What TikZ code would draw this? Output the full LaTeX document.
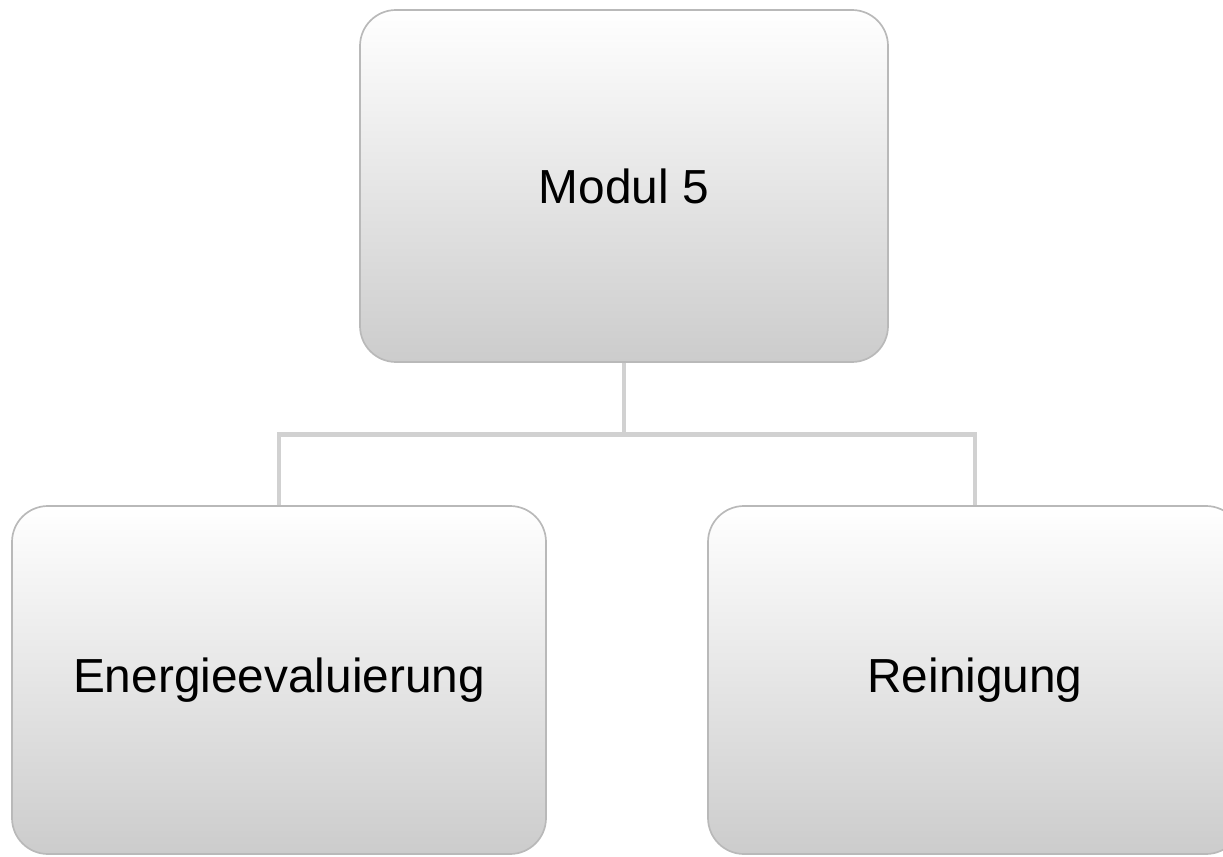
\documentclass[tikz,border=0pt]{standalone}
\usepackage{fontspec}
\setmainfont{Liberation Sans}
\tikzset{
  modbox/.style={draw=gray!55,line width=1.2pt,rounded corners=0.9cm,
    top color=white,bottom color=black!20,
    minimum width=13.35cm,minimum height=8.7cm,
    font=\fontsize{34}{40}\selectfont},
  link/.style={draw=black!18,line width=3.5pt}
}
\begin{document}
\begin{tikzpicture}
\useasboundingbox (0,0) rectangle (30.575,-21.425);
\node[modbox,minimum width=13.2cm,minimum height=8.8cm] (modul) at (15.6,-4.65) {Modul 5};
\node[modbox] (energie) at (6.975,-17.0) {Energieevaluierung};
\node[modbox] (reinigung) at (24.375,-17.0) {Reinigung};
\coordinate (bus) at ([yshift=-1.8cm]modul.south);
\draw[link] (modul.south) -- (bus);
\draw[link] (bus) -| (energie.north);
\draw[link] (bus) -| (reinigung.north);
\end{tikzpicture}
\end{document}
